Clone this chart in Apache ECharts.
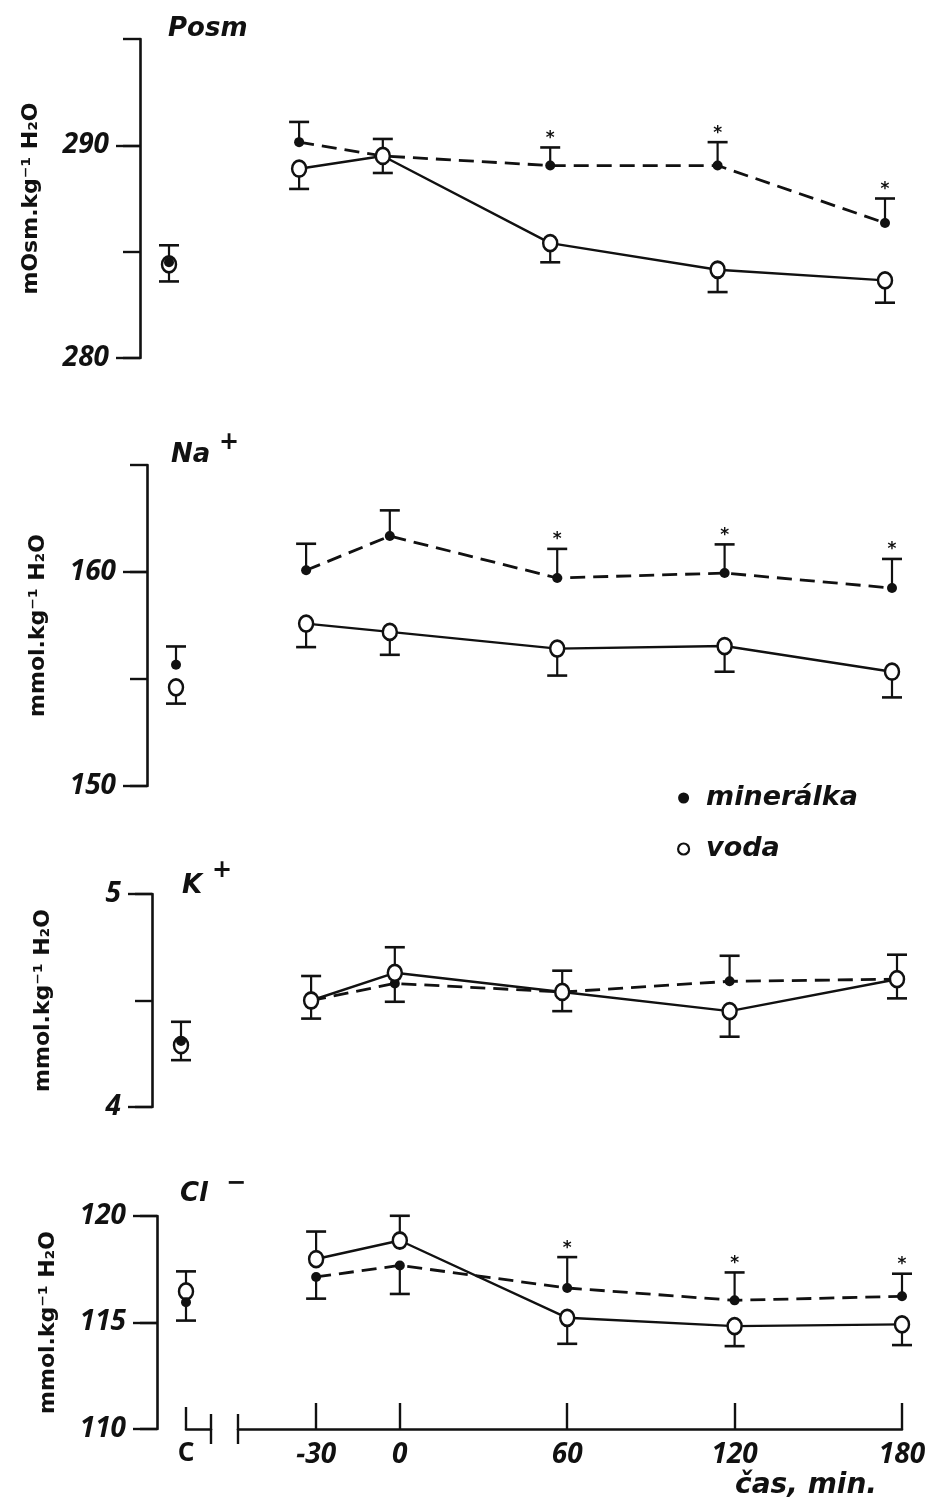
<!DOCTYPE html>
<html><head><meta charset="utf-8">
<script src="https://cdn.jsdelivr.net/npm/echarts@6/dist/echarts.min.js"></script>
<style>html,body{margin:0;padding:0;background:#fff}#c{width:942px;height:1509px}</style>
</head><body><div id="c"></div>
<script>
// ---------------- DATA ----------------
const times = [-30, 0, 60, 120, 180];
const timeTickLabels = ['\u221230', '0', '60', '120', '180'];
const controlLabel = 'C';
const seriesNames = ['minerálka', 'voda'];
const xAxisTitle = 'čas, min.';

// Posm (mOsm/kg H2O)
const posmMin = [290.15, 289.5, 289.05, 289.05, 286.35];
const posmMinSE = [0.95, 0.8, 0.85, 1.1, 1.15];
const posmVoda = [288.9, 289.5, 285.4, 284.15, 283.65];
const posmVodaSE = [0.95, 0.8, 0.9, 1.05, 1.05];
const posmControl = [284.5, 284.4];      // [minerálka, voda]
const posmControlSE = [0.8, 0.8];
const posmSig = [0, 0, 1, 1, 1];
const posmTicks = [280, 285, 290, 295];
const posmTickLabels = [280, 290];

// Na+
const naMin = [160.08, 161.68, 159.72, 159.95, 159.25];
const naMinSE = [1.24, 1.2, 1.36, 1.34, 1.36];
const naVoda = [157.59, 157.2, 156.42, 156.54, 155.34];
const naVodaSE = [1.1, 1.07, 1.26, 1.2, 1.2];
const naControl = [155.67, 154.61];
const naControlSE = [0.85, 0.76];
const naSig = [0, 0, 1, 1, 1];
const naTicks = [150, 155, 160, 165];
const naTickLabels = [150, 160];

// K+
const kMin = [4.50, 4.58, 4.54, 4.59, 4.60];
const kMinSE = [0.115, 0.086, 0.10, 0.12, 0.115];
const kVoda = [4.50, 4.63, 4.54, 4.45, 4.60];
const kVodaSE = [0.085, 0.12, 0.09, 0.12, 0.09];
const kControl = [4.31, 4.29];
const kControlSE = [0.09, 0.07];
const kSig = [0, 0, 0, 0, 0];
const kTicks = [4, 4.5, 5];
const kTickLabels = [4, 5];

// Cl-
const clMin = [117.14, 117.68, 116.62, 116.04, 116.23];
const clMinSE = [1.02, 1.34, 1.45, 1.31, 1.06];
const clVoda = [117.98, 118.85, 115.22, 114.83, 114.91];
const clVodaSE = [1.29, 1.16, 1.22, 0.94, 0.97];
const clControl = [115.95, 116.46];
const clControlSE = [0.86, 0.94];
const clSig = [0, 0, 1, 1, 1];
const clTicks = [110, 115, 120];
const clTickLabels = [110, 115, 120];

// ---------------- LAYOUT / STYLE ----------------
const INK = '#111';
const panels = [
  {title: 'Posm', sup: '', unit: 'mOsm.kg\u207B\u00B9 H\u2082O', min: 280, max: 295, ticks: posmTicks, labels: posmTickLabels,
   mv: posmMin, me: posmMinSE, vv: posmVoda, ve: posmVodaSE, c: posmControl, ce: posmControlSE, sig: posmSig,
   axisX: 140, top: 39, bottom: 358, tl: 168, tt: 16, sl: 0, st: 0},
  {title: 'Na', sup: '+', unit: 'mmol.kg\u207B\u00B9 H\u2082O', min: 150, max: 165, ticks: naTicks, labels: naTickLabels,
   mv: naMin, me: naMinSE, vv: naVoda, ve: naVodaSE, c: naControl, ce: naControlSE, sig: naSig,
   axisX: 147, top: 465, bottom: 786, tl: 171, tt: 442, sl: 219, st: 431},
  {title: 'K', sup: '+', unit: 'mmol.kg\u207B\u00B9 H\u2082O', min: 4, max: 5, ticks: kTicks, labels: kTickLabels,
   mv: kMin, me: kMinSE, vv: kVoda, ve: kVodaSE, c: kControl, ce: kControlSE, sig: kSig,
   axisX: 152, top: 894, bottom: 1107, tl: 182, tt: 873, sl: 212, st: 859},
  {title: 'Cl', sup: '\u2212', unit: 'mmol.kg\u207B\u00B9 H\u2082O', min: 110, max: 120, ticks: clTicks, labels: clTickLabels,
   mv: clMin, me: clMinSE, vv: clVoda, ve: clVodaSE, c: clControl, ce: clControlSE, sig: clSig,
   axisX: 157, top: 1216, bottom: 1429, tl: 180, tt: 1181, sl: 226, st: 1172}
];
const T_MIN = -58, T_MAX = 180;
const T_LEFT0 = 238, T_WIDTH = 664, C_OFF = 29, C_WIDTH = 25;

const numFont = {fontFamily: 'Noto Sans', fontWeight: 'bold', fontStyle: 'italic', fontSize: 28, color: INK};
const txtFont = {fontFamily: 'DejaVu Sans', fontWeight: 'bold', fontStyle: 'italic', color: INK};
const tickStyle = {color: INK, width: 2.4};
const filledStyle = {color: INK, opacity: 1};
const openStyle = {color: '#fff', borderColor: INK, borderWidth: 2.6, opacity: 1};

function errRender(params, api) {
  const x = api.value(0), y = api.value(1), e = api.value(2), sig = api.value(3);
  const p0 = api.coord([x, y]);
  const p1 = api.coord([x, y + e]);
  const ch = [
    {type: 'line', shape: {x1: p0[0], y1: p0[1], x2: p1[0], y2: p1[1]}, style: {stroke: INK, lineWidth: 2.2}},
    {type: 'line', shape: {x1: p1[0] - 10, y1: p1[1], x2: p1[0] + 10, y2: p1[1]}, style: {stroke: INK, lineWidth: 2.6}}
  ];
  if (sig) ch.push({type: 'text', x: p1[0], y: p1[1] - 9,
    style: {text: '*', fill: INK, font: 'bold 17px "DejaVu Sans"', align: 'center', verticalAlign: 'middle'}});
  return {type: 'group', children: ch};
}

const grid = [], xAxis = [], yAxis = [], series = [], title = [];
panels.forEach((p, i) => {
  const isBottom = i === panels.length - 1;
  const d = p.axisX - 157;
  const h = p.bottom - p.top;

  // grid holding the visible y axis and the control (C) points
  const gY = grid.length;
  grid.push({left: p.axisX, top: p.top, width: C_OFF + C_WIDTH, height: h});
  // grid holding the time course
  const gT = grid.length;
  grid.push({left: T_LEFT0 + d, top: p.top, width: T_WIDTH, height: h});

  const yC = yAxis.length;
  yAxis.push({
    gridIndex: gY, type: 'value', min: p.min, max: p.max, position: 'left',
    axisLine: {show: true, onZero: false, lineStyle: {color: INK, width: 2.6}},
    axisTick: {show: true, length: 17, customValues: p.ticks, lineStyle: tickStyle},
    axisLabel: Object.assign({customValues: p.labels, margin: 31}, numFont),
    splitLine: {show: false},
    name: p.unit, nameLocation: 'middle', nameGap: 98,
    nameTextStyle: {fontFamily: 'DejaVu Sans', fontWeight: 'bold', fontSize: 22, color: INK}
  });
  yAxis.push({
    gridIndex: gY, type: 'value', min: p.min, max: p.max, position: 'left',
    axisLine: {show: false, onZero: false}, axisLabel: {show: false}, splitLine: {show: false},
    axisTick: {show: true, length: 24, customValues: p.labels, lineStyle: tickStyle}
  });
  const yT = yAxis.length;
  yAxis.push({gridIndex: gT, type: 'value', min: p.min, max: p.max, show: false, axisLine: {onZero: false}});

  const xC = xAxis.length;
  xAxis.push({gridIndex: gY, type: 'value', min: -C_OFF / C_WIDTH, max: 1, show: false, axisLine: {onZero: false}});

  const xT = xAxis.length;
  if (isBottom) {
    xAxis.push({
      gridIndex: gT, type: 'value', min: T_MIN, max: T_MAX, position: 'bottom',
      axisLine: {show: true, onZero: false, lineStyle: {color: INK, width: 2.6}},
      axisTick: {show: true, inside: true, length: 26, customValues: times, lineStyle: tickStyle},
      axisLabel: Object.assign({customValues: times, margin: 12,
        formatter: v => timeTickLabels[times.indexOf(v)]}, numFont),
      splitLine: {show: false},
      name: xAxisTitle, nameLocation: 'end', nameGap: -25,
      nameTextStyle: Object.assign({fontSize: 28, align: 'right', verticalAlign: 'top', padding: [43, 0, 0, 0]}, txtFont)
    });
    [false, true].forEach(ins => xAxis.push({
      gridIndex: gT, type: 'value', min: T_MIN, max: T_MAX, position: 'bottom',
      axisLine: {show: false, onZero: false}, axisLabel: {show: false}, splitLine: {show: false},
      axisTick: {show: true, inside: ins, length: 15, customValues: [T_MIN], lineStyle: tickStyle}
    }));

    // broken-axis segment for the control column
    const gCX = grid.length;
    grid.push({left: p.axisX + C_OFF, top: p.top, width: C_WIDTH, height: h});
    yAxis.push({gridIndex: gCX, type: 'value', min: p.min, max: p.max, show: false, axisLine: {onZero: false}});
    xAxis.push({
      gridIndex: gCX, type: 'value', min: 0, max: 1, position: 'bottom',
      axisLine: {show: true, onZero: false, lineStyle: {color: INK, width: 2.6}},
      axisTick: {show: true, inside: true, length: 22, customValues: [0], lineStyle: tickStyle},
      axisLabel: Object.assign({customValues: [0], margin: 12, formatter: () => controlLabel}, numFont,
        {fontStyle: 'normal', fontSize: 26}),
      splitLine: {show: false}
    });
    [false, true].forEach(ins => xAxis.push({
      gridIndex: gCX, type: 'value', min: 0, max: 1, position: 'bottom',
      axisLine: {show: false, onZero: false}, axisLabel: {show: false}, splitLine: {show: false},
      axisTick: {show: true, inside: ins, length: 15, customValues: [1], lineStyle: tickStyle}
    }));
  } else {
    xAxis.push({gridIndex: gT, type: 'value', min: T_MIN, max: T_MAX, show: false, axisLine: {onZero: false}});
  }

  // error bars: the upper group's bar points up, the lower group's points down
  const minDir = (a, b) => (a >= b ? 1 : -1);
  const vodaDir = (a, b) => (b > a ? 1 : -1);
  const minErr = times.map((t, k) => [t, p.mv[k], minDir(p.mv[k], p.vv[k]) * p.me[k], p.sig[k]]);
  const vodaErr = times.map((t, k) => [t, p.vv[k], vodaDir(p.mv[k], p.vv[k]) * p.ve[k], 0]);
  const cErr = [
    [0, p.c[0], minDir(p.c[0], p.c[1]) * p.ce[0], 0],
    [0, p.c[1], vodaDir(p.c[0], p.c[1]) * p.ce[1], 0]
  ];

  series.push({type: 'custom', name: 'SE ' + p.title, xAxisIndex: xT, yAxisIndex: yT, renderItem: errRender,
    encode: {x: 0, y: 1}, data: minErr.concat(vodaErr), z: 2, silent: true});
  series.push({type: 'custom', name: 'SE C ' + p.title, xAxisIndex: xC, yAxisIndex: yC, renderItem: errRender,
    encode: {x: 0, y: 1}, data: cErr, z: 2, silent: true});

  series.push({type: 'line', name: seriesNames[0], xAxisIndex: xT, yAxisIndex: yT,
    data: times.map((t, k) => [t, p.mv[k]]), symbol: 'circle', symbolSize: 10,
    itemStyle: filledStyle, lineStyle: {color: INK, width: 2.8, type: [15, 8]}, z: 3});
  series.push({type: 'line', name: seriesNames[1], xAxisIndex: xT, yAxisIndex: yT,
    data: times.map((t, k) => [t, p.vv[k]]), symbol: 'circle', symbolSize: [14, 16],
    itemStyle: openStyle, lineStyle: {color: INK, width: 2.4}, z: 4});
  series.push({type: 'scatter', name: seriesNames[1], xAxisIndex: xC, yAxisIndex: yC,
    data: [[0, p.c[1]]], symbol: 'circle', symbolSize: [14, 16], itemStyle: openStyle, z: 4});
  series.push({type: 'scatter', name: seriesNames[0], xAxisIndex: xC, yAxisIndex: yC,
    data: [[0, p.c[0]]], symbol: 'circle', symbolSize: 10, itemStyle: filledStyle, z: 5});

  title.push({text: p.title, left: p.tl, top: p.tt, padding: 0,
    textStyle: Object.assign({fontSize: 26}, txtFont)});
  if (p.sup) title.push({text: p.sup, left: p.sl, top: p.st, padding: 0,
    textStyle: Object.assign({fontSize: 24}, txtFont)});
});

const chart = echarts.init(document.getElementById('c'), null, {renderer: 'canvas'});
chart.setOption({
  backgroundColor: '#fff',
  animation: false,
  title: title,
  legend: {
    orient: 'vertical', left: 672, top: 778, itemWidth: 11, itemHeight: 11, itemGap: 21,
    selectedMode: false,
    data: [
      {name: seriesNames[0], icon: 'circle', itemStyle: {color: INK, borderWidth: 0}},
      {name: seriesNames[1], icon: 'circle', itemStyle: {color: '#fff', borderColor: INK, borderWidth: 2.2}}
    ],
    textStyle: Object.assign({fontSize: 27, padding: [0, 0, 0, 12], lineHeight: 30}, txtFont)
  },
  grid: grid, xAxis: xAxis, yAxis: yAxis, series: series
});
</script></body></html>
